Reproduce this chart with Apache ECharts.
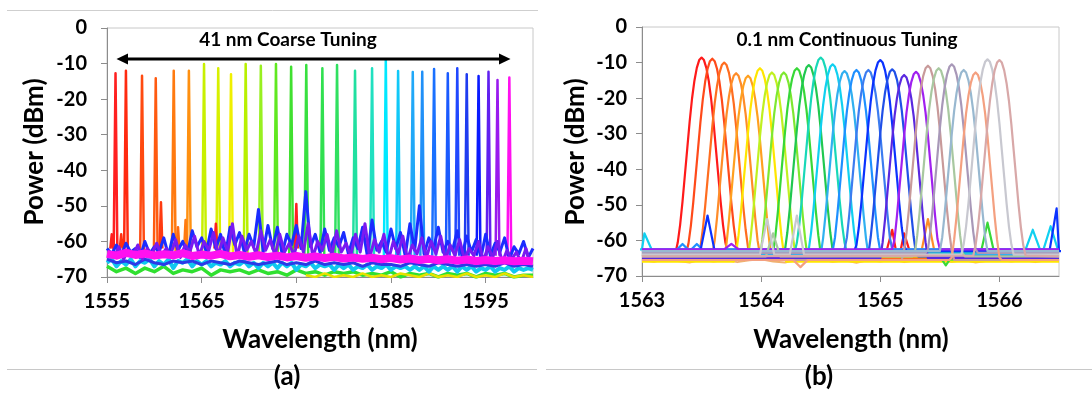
<!DOCTYPE html>
<html>
<head>
<meta charset="utf-8">
<script src="https://cdn.jsdelivr.net/npm/echarts@6/dist/echarts.min.js"></script>
<style>
  html, body { margin: 0; padding: 0; background: #ffffff; }
  #c { width: 1092px; height: 394px; }
</style>
</head>
<body>
<div id="c"></div>
<script>
// ---------------- DATA ----------------
// Panel (a): coarse tuning peaks
const coarseWl = [1555.9, 1557.0, 1558.7, 1560.15, 1562.05, 1563.65, 1565.25, 1566.75, 1568.1, 1569.65,
                  1571.25, 1572.85, 1574.45, 1576.05, 1577.75, 1579.3, 1581.2, 1583.0, 1584.45, 1585.75,
                  1587.3, 1588.3, 1589.55, 1591.0, 1592.0, 1593.0, 1594.25, 1595.3, 1596.25, 1597.5];
const coarseDb = [-12.7, -12, -13.4, -14.1, -12, -12, -10.1, -11.3, -13, -10.1,
                  -10.6, -10.1, -10.9, -10.4, -11.3, -10.4, -12, -11.3, -8.8, -12.1,
                  -12.4, -12.3, -11.5, -12.7, -11.3, -13, -13.5, -12.3, -14.6, -13.9];
const coarseColors = ['#ff2020', '#ff2a10', '#ff4a10', '#ff5a10', '#ff7a10', '#ff9010', '#c8f000', '#d8f000', '#f0f000', '#b8f000',
                      '#98f020', '#60e820', '#40e030', '#38e040', '#30e050', '#30e060', '#20e0a0', '#20e0c0', '#00e8ff', '#10c8f8',
                      '#20a8f8', '#2090f8', '#1a70ff', '#1a5aff', '#2048ff', '#1f3cf0', '#0a1aff', '#6020f0', '#9a1aee', '#ff10f0'];
// small spurs (side modes) in panel (a)
const coarseSpurWl = [1555.5, 1556.5, 1560.7, 1562.5, 1563.3, 1566.5, 1575.0, 1577.6];
const coarseSpurDb = [-58, -58, -49, -56, -54, -55, -49.5, -58];
const coarseSpurColors = ['#ff2020', '#ff3010', '#ff3a10', '#ff6a10', '#ff7a10', '#ff2020', '#ff2020', '#40e040'];
// noise floor traces of panel (a)
const floorBlue = [-62,-63.5,-61,-64,-60.5,-63,-62,-64.5,-60,-63.5,
                   -61.5,-63,-59,-64,-58,-62.5,-60,-63.5,-57,-61.5,
                   -59,-63,-56.5,-62,-58,-64,-56,-61,-57.5,-63,
                   -58,-61.5,-51,-63,-55.5,-62,-56,-63.5,-58,-61,
                   -55.5,-62,-46,-61.5,-58,-63,-56.5,-62.5,-59,-61.5,
                   -57.5,-63.5,-59,-62,-56,-64,-54,-62.5,-60,-63,
                   -56.5,-62,-57.5,-64,-55,-62.5,-50,-63.5,-59,-62,
                   -56,-63,-60,-62.5,-57,-64,-58.5,-63,-59.5,-64.5,
                   -58,-64,-60.5,-63,-59,-65,-61.5,-63.5,-60,-64.5,
                   -62];
const floorPurple = [-63,-64.5,-61.5,-65,-62.5,-64,-61,-65,-62,-63.5,
                     -60.5,-64,-62,-63.5,-59.5,-64.5,-61,-63,-58.5,-64,
                     -60,-62.5,-57.5,-64,-59,-63,-55,-64.5,-58.5,-62.5,
                     -60,-63.5,-57,-62.5,-59.5,-64,-58,-63,-60.5,-64,
                     -58.5,-63,-55,-64.5,-60,-62.5,-58,-64,-57,-63,
                     -60.5,-64,-58,-63,-55,-64.5,-59.5,-63,-58,-65,
                     -60,-63.5,-58.5,-65,-61,-63.5,-59,-64.5,-60,-63.5,
                     -58.5,-65,-61,-64,-59.5,-65,-62,-64,-60,-65.5,
                     -61.5,-64.5,-60,-66,-62.5,-65,-63,-66,-62,-66.5];
const floorDeepBlue = [-65,-66,-65.5,-66.5,-65,-66,-66.5,-65.5,-66,-65.5,
                       -66.5,-65.5,-66,-66.5,-65.5,-66,-66.5,-66,-65.5,-66.5,
                       -66,-66.5,-65.5,-66.5,-66,-66.5,-66,-67,-66,-66.5,
                       -66.5,-67,-66,-66.5,-67,-66,-66.5,-67,-66.5,-67,
                       -66.5,-67,-66,-67,-66.5,-67];
const floorMagenta = [-63.5,-64,-63.2,-63.8,-63.4,-64,-63.6,-63.9,-63.3,-64.1,
                      -63.7,-64,-63.5,-64.2,-63.8,-64.3,-63.9,-64.4,-64,-64.5,
                      -64.1,-64.6,-64.2,-64.7,-64.3,-64.8,-64.5,-64.9,-64.6,-65,
                      -64.7,-65.1,-64.8,-65.2,-64.9,-65.3,-65,-65.4,-65.1,-65.5,
                      -65.2,-65.5,-65.3,-65.6,-65.4,-65.6];
const floorCyan = [-66,-65,-67,-65.5,-66.5,-65,-67,-65.5,-66,-65,
                   -67,-65.5,-66.5,-65,-67.5,-65.5,-66,-65,-67,-65.5,
                   -66.5,-65.5,-67,-66,-66.5,-65.5,-67,-66,-66.5,-65.5,
                   -67,-66,-67.5,-66,-67,-66,-67.5,-66,-67,-66,
                   -68,-66.5,-67,-66,-67.5,-66.5,-67,-66.5,-68,-66.5,
                   -67.5,-66.5,-68,-67,-67.5,-66.5,-68,-67,-67.5,-66.5,
                   -68,-67,-67.5,-67,-68,-67,-68,-67,-68.5,-67,
                   -68,-67,-68,-67,-68.5,-67,-68,-67,-68.5,-67.5,
                   -68,-67,-68.5,-67.5,-68,-67,-68.5,-67.5,-68,-67.5,
                   -68];
const floorGreen = [-67,-68.5,-67.5,-69,-67.5,-68.5,-67,-69,-68,-68.5,
                    -67.5,-69.5,-68,-68.5,-68,-69,-68,-69,-68.5,-69.5,
                    -68,-69,-68.5,-69.5,-68.5,-69,-68.5,-69.5,-69,-69.5,
                    -68.5,-70,-69,-69.5,-69,-70,-69,-69.5,-69,-70,
                    -69,-69.5,-69,-70,-69.5,-69.5];
const floorYellow = [-69.5,-70,-69,-70,-69.5,-70,-69,-70,-69.5,-70,
                     -69,-69.5,-70,-69,-70,-69.5,-70,-69,-70,-69.5,
                     -70,-69,-70,-69.5,-70];

// Panel (b): continuous tuning peaks
const fineWl = [1563.50, 1563.59, 1563.69, 1563.79, 1563.89, 1563.99, 1564.09, 1564.19, 1564.30, 1564.40,
                1564.50, 1564.60, 1564.70, 1564.80, 1564.90, 1565.00, 1565.10, 1565.20, 1565.30, 1565.40,
                1565.49, 1565.60, 1565.70, 1565.80, 1565.90, 1566.00];
const fineDb = [-8.6, -8.9, -10, -13, -13.7, -11.6, -12.8, -12.8, -11.6, -10.7,
                -8.6, -10.5, -12.4, -12.1, -12.1, -9.3, -11.9, -13.5, -12.6, -10.9,
                -11.6, -10.5, -12.1, -12.8, -9.1, -9.3];
const fineFloor = [-64.5, -63.5, -65, -64, -65.5, -66, -64.5, -65.5, -64, -63,
                   -63.5, -62.5, -64, -63, -62.5, -63, -64.5, -65, -62.5, -65.5,
                   -64.5, -63.5, -63, -65.5, -64, -64.5];
const fineColors = ['#ff1a1a', '#ff4a1a', '#ff6d1f', '#ff8c28', '#ffa020', '#ffe600', '#c0f020', '#7ee830', '#38d838', '#20c850',
                    '#18d8b8', '#10d0f0', '#30b0f0', '#1e90ff', '#3c7cf0', '#0a32ff', '#2050e8', '#5a28e0', '#a020f0', '#c89a9a',
                    '#a8c8a0', '#a898b8', '#98b8d0', '#f4a080', '#c8c8d0', '#d8a8a8'];
// measured line profile of one laser line (offset nm -> drop dB)
const profileDx = [-0.22, -0.2, -0.18, -0.16, -0.14, -0.12, -0.1, -0.08, -0.06, -0.04, -0.02, 0,
                   0.02, 0.04, 0.06, 0.08, 0.1, 0.12, 0.14, 0.16, 0.18, 0.2, 0.22];
const profileDrop = [-55, -52, -47, -40.5, -33, -25.5, -18, -11.5, -6.5, -2.9, -0.7, 0,
                     -0.7, -2.9, -6.5, -11.5, -18, -25.5, -33, -40.5, -47, -52, -55];
// small bumps / dips in panel (b): wavelength, level, trace index
const fineSpurWl = [1563.55, 1563.02, 1566.28, 1566.43, 1566.48, 1563.75, 1564.05, 1564.3, 1564.1, 1565.4, 1565.1, 1565.2, 1565.9, 1565.55, 1564.33, 1563.34, 1563.46];
const fineSpurDb = [-53, -58, -57, -56, -51, -61, -54, -53, -58, -54, -57, -58, -55, -67, -67.5, -61, -61];
const fineSpurTrace = [15, 11, 11, 11, 15, 18, 24, 24, 20, 3, 0, 0, 8, 8, 23, 13, 13];
// noisy floor traces in panel (b), every 0.1 nm from 1563
const fineNoiseViolet = [-63,-63.5,-62.8,-63.4,-62.6,-63.8,-63.2,-62.9,-63.6,-63,
                         -62.7,-63.5,-63.1,-62.8,-63.4,-63,-63.6,-62.9,-63.3,-62.7,
                         -63.5,-63.1,-62.8,-63.7,-63.2,-62.9,-63.4,-63,-62.6,-63.5,
                         -63.1,-62.8,-63.3,-63.6,-62.9,-63.2];
const fineNoiseGray = [-64,-64.6,-63.8,-64.4,-64.9,-63.9,-64.5,-64.1,-64.7,-63.8,
                       -64.3,-64.8,-64,-64.5,-63.9,-64.6,-64.2,-64.8,-64,-64.4,
                       -64.9,-64.1,-64.6,-63.9,-64.5,-64.2,-64.8,-64,-64.4,-64.9,
                       -64.1,-64.5,-64,-64.7,-64.2,-64.6];
const fineNoiseOrange = [-65.5,-66,-65.3,-65.8,-66.2,-65.4,-65.9,-65.5,-66.1,-65.6,
                         -65.3,-65.9,-66.2,-65.5,-65.8,-65.4,-66,-65.6,-66.3,-65.5,
                         -65.9,-65.4,-66.1,-65.6,-65.8,-65.3,-66,-65.5,-66.2,-65.7,
                         -65.4,-65.9,-65.5,-66.1,-65.6,-65.8];

// axis ticks
const xTicksA = {min: 1555, max: 1600, interval: 10};
const xTicksB = {min: 1563, max: 1566.5, interval: 1};
const yTicks = {min: -70, max: 0, interval: 10};

// ---------------- CHART ----------------
const FONT = 'Lato';
const chart = echarts.init(document.getElementById('c'), null, {renderer: 'canvas'});
const series = [];
const PEAK_HALF = 0.2;     // visual half-width of a coarse spike (nm)
const COARSE_BASE = -64;   // where coarse spikes meet the floor
const SPUR_HALF_A = 0.15;
const SPUR_HALF_B = 0.06;

function lineS(grid, color, width, data, z) {
  return {type: 'line', xAxisIndex: grid, yAxisIndex: grid, symbol: 'none', showSymbol: false,
          silent: true, animation: false, clip: true, z: z || 2,
          lineStyle: {color: color, width: width, join: 'round'}, data: data};
}
function gridded(vals, start, step) { return vals.map((v, i) => [start + i * step, v]); }

// panel (a) floors (lower ones first)
series.push(lineS(0, '#30e030', 3.5, gridded(floorGreen, 1555, 1)));
series.push(lineS(0, '#e8e000', 2.5, gridded(floorYellow, 1576, 1)));
series.push(lineS(0, '#10c8f0', 4, gridded(floorCyan, 1555, 0.5)));
series.push(lineS(0, '#2a3ae8', 3, gridded(floorDeepBlue, 1555, 1)));
// panel (a) spikes
coarseWl.forEach((w, i) => {
  series.push(lineS(0, coarseColors[i], 2.5, [[w - PEAK_HALF, COARSE_BASE], [w, coarseDb[i]], [w + PEAK_HALF, COARSE_BASE]]));
});
coarseSpurWl.forEach((w, i) => {
  series.push(lineS(0, coarseSpurColors[i], 2.5, [[w - SPUR_HALF_A, COARSE_BASE + 2], [w, coarseSpurDb[i]], [w + SPUR_HALF_A, COARSE_BASE + 2]]));
});
series.push(lineS(0, '#1a2cff', 3, gridded(floorBlue, 1555, 0.5)));
series.push(lineS(0, '#7a1af0', 3, gridded(floorPurple, 1555.25, 0.5)));
series.push(lineS(0, '#ff10f0', 8, gridded(floorMagenta, 1555, 1)));

// panel (b) noise floor
series.push(lineS(1, '#f0b070', 2, gridded(fineNoiseOrange, 1563, 0.1)));
series.push(lineS(1, '#a8b8d8', 2, gridded(fineNoiseGray, 1563, 0.1)));
series.push(lineS(1, '#5a2ae8', 2, gridded(fineNoiseViolet, 1563, 0.1)));
// panel (b) traces
fineWl.forEach((w, i) => {
  const f = fineFloor[i];
  const pts = [[xTicksB.min, f], [xTicksB.max, f]];
  profileDx.forEach((dx, k) => pts.push([w + dx, Math.max(f, fineDb[i] + profileDrop[k])]));
  fineSpurWl.forEach((sw, j) => {
    if (fineSpurTrace[j] === i) {
      pts.push([sw - SPUR_HALF_B, f], [sw, fineSpurDb[j]], [sw + SPUR_HALF_B, f]);
    }
  });
  pts.sort((a, b) => a[0] - b[0]);
  series.push(lineS(1, fineColors[i], 2.2, pts));
});

const labelStyle = {fontFamily: FONT, fontWeight: 'bold', fontSize: 20, color: '#000'};
function xAxisDef(grid, t) {
  return {type: 'value', gridIndex: grid, min: t.min, max: t.max, interval: t.interval,
          axisLine: {show: true, onZero: false, lineStyle: {color: '#8c8c8c', width: 1}},
          axisTick: {show: true, length: 6, lineStyle: {color: '#8c8c8c'}},
          axisLabel: Object.assign({margin: 15, showMaxLabel: false, formatter: v => String(v)}, labelStyle),
          splitLine: {show: false}};
}
function yAxisDef(grid, margin) {
  return {type: 'value', gridIndex: grid, min: yTicks.min, max: yTicks.max, interval: yTicks.interval,
          axisLine: {show: true, onZero: false, lineStyle: {color: '#8c8c8c', width: 1}},
          axisTick: {show: true, length: 6, lineStyle: {color: '#8c8c8c'}},
          axisLabel: Object.assign({margin: margin, formatter: v => String(v)}, labelStyle),
          splitLine: {show: false}};
}

const titleFont = {fontFamily: FONT, fontWeight: 'bold', fontSize: 26, fill: '#000'};
const noteFont = {fontFamily: FONT, fontWeight: 'bold', fontSize: 19, fill: '#000'};
function txt(text, x, y, st, rot) {
  return {type: 'text', x: x, y: y, rotation: rot || 0, silent: true, z: 100,
          style: Object.assign({text: text, align: 'center', verticalAlign: 'middle'}, st)};
}
function hline(x1, x2, y, color, w) {
  return {type: 'line', silent: true, z: 100, shape: {x1: x1, y1: y, x2: x2, y2: y}, style: {stroke: color, lineWidth: w}};
}

const option = {
  animation: false,
  backgroundColor: '#ffffff',
  grid: [
    {left: 107, top: 28, width: 426, height: 249, show: true, borderColor: '#c8c8c8', borderWidth: 1, backgroundColor: 'transparent'},
    {left: 642, top: 27, width: 417, height: 249, show: true, borderColor: '#c8c8c8', borderWidth: 1, backgroundColor: 'transparent'}
  ],
  xAxis: [xAxisDef(0, xTicksA), xAxisDef(1, xTicksB)],
  yAxis: [yAxisDef(0, 20), yAxisDef(1, 15)],
  series: series,
  graphic: [
    hline(7, 538, 10.5, '#cfcfcf', 1),
    hline(7, 537, 369.5, '#c8c8c8', 1),
    hline(546, 1092, 369.5, '#c8c8c8', 1),
    // double-headed arrow
    hline(124, 503, 59, '#000', 3),
    {type: 'polygon', silent: true, z: 100, shape: {points: [[116.5, 59], [128, 53.5], [128, 64.5]]}, style: {fill: '#000'}},
    {type: 'polygon', silent: true, z: 100, shape: {points: [[510.5, 59], [499, 53.5], [499, 64.5]]}, style: {fill: '#000'}},
    txt('41 nm Coarse Tuning', 288, 40, noteFont),
    txt('0.1 nm Continuous Tuning', 847, 40, noteFont),
    txt('Power (dBm)', 35, 152, titleFont, Math.PI / 2),
    txt('Power (dBm)', 576, 152, titleFont, Math.PI / 2),
    txt('Wavelength (nm)', 320, 340, titleFont),
    txt('Wavelength (nm)', 851, 340, titleFont),
    txt('(a)', 287, 377, titleFont),
    txt('(b)', 819, 377, titleFont)
  ]
};
chart.setOption(option);
</script>
</body>
</html>
